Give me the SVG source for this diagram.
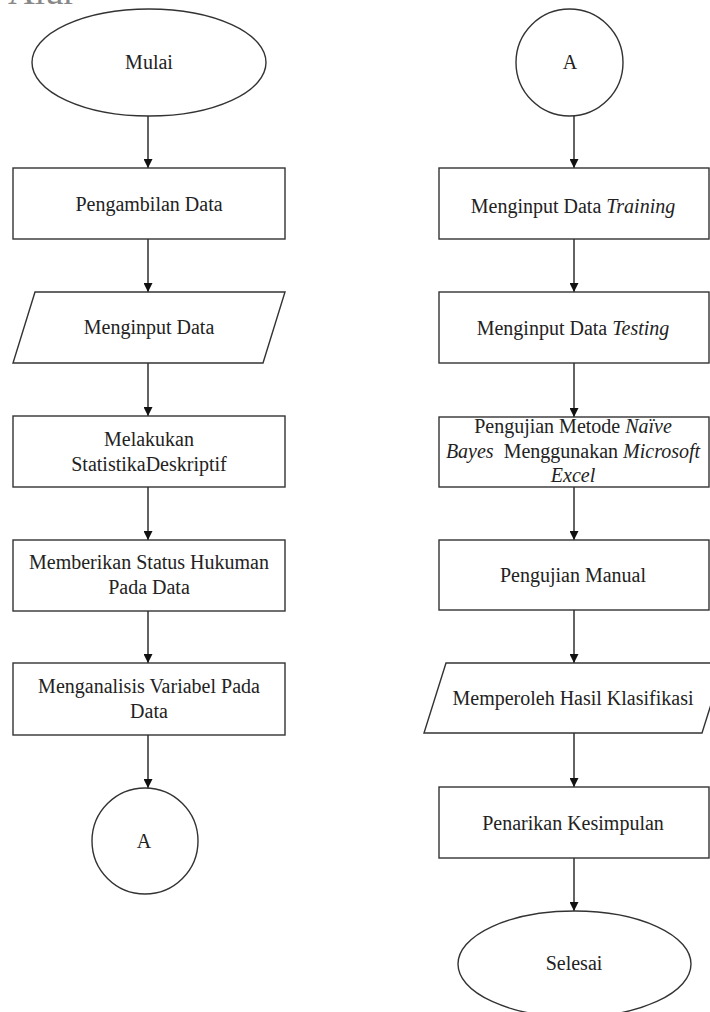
<svg xmlns="http://www.w3.org/2000/svg" width="710" height="1012" viewBox="0 0 710 1012">
<defs>
<marker id="arr" viewBox="0 0 10 10" refX="10" refY="5" markerWidth="9" markerHeight="9" markerUnits="userSpaceOnUse" orient="auto">
<path d="M0,0 L10,5 L0,10 z" fill="#111"/>
</marker>
<style>
.s{fill:#fff;stroke:#333;stroke-width:1.4}
.t{font-family:"Liberation Serif","Times New Roman",serif;font-size:20px;fill:#222;text-anchor:middle}
.i{font-style:italic}
.c{stroke:#222;stroke-width:1.4;fill:none;marker-end:url(#arr)}
</style>
</defs>
<rect width="710" height="1012" fill="#fff"/>
<text x="8" y="4" style="font-family:'Liberation Serif',serif;font-size:37px;fill:#888">Alur</text>
<g id="connectors">
<line class="c" x1="148" y1="116" x2="148" y2="168"/>
<line class="c" x1="148" y1="239" x2="148" y2="292"/>
<line class="c" x1="148" y1="363" x2="148" y2="416"/>
<line class="c" x1="148" y1="487" x2="148" y2="540"/>
<line class="c" x1="148" y1="611" x2="148" y2="663"/>
<line class="c" x1="148" y1="735" x2="148" y2="788"/>
<line class="c" x1="574" y1="116" x2="574" y2="168"/>
<line class="c" x1="574" y1="239" x2="574" y2="292"/>
<line class="c" x1="574" y1="363" x2="574" y2="417"/>
<line class="c" x1="574" y1="487" x2="574" y2="540"/>
<line class="c" x1="574" y1="610" x2="574" y2="663"/>
<line class="c" x1="574" y1="733" x2="574" y2="787"/>
<line class="c" x1="574" y1="858" x2="574" y2="911"/>
</g>
<g id="mulai"><ellipse class="s" cx="149" cy="62.5" rx="117" ry="53.5"/><text class="t" x="149" y="69">Mulai</text></g>
<g id="pengambilan"><rect class="s" x="13" y="168" width="272" height="71"/><text class="t" x="149" y="211">Pengambilan Data</text></g>
<g id="menginput"><polygon class="s" points="35,292 285,292 263,363 13,363"/><text class="t" x="149" y="334">Menginput Data</text></g>
<g id="melakukan"><rect class="s" x="13" y="416" width="272" height="71"/><text class="t" x="149" y="446">Melakukan</text><text class="t" x="149" y="471">StatistikaDeskriptif</text></g>
<g id="memberikan"><rect class="s" x="13" y="540" width="272" height="71"/><text class="t" x="149" y="569">Memberikan Status Hukuman</text><text class="t" x="149" y="594">Pada Data</text></g>
<g id="menganalisis"><rect class="s" x="13" y="663" width="272" height="72"/><text class="t" x="149" y="693">Menganalisis Variabel Pada</text><text class="t" x="149" y="718">Data</text></g>
<g id="a-left"><circle class="s" cx="145" cy="841" r="53"/><text class="t" x="144" y="848">A</text></g>
<g id="a-right"><circle class="s" cx="569.5" cy="62.5" r="53.5"/><text class="t" x="570" y="69">A</text></g>
<g id="training"><rect class="s" x="439" y="168" width="270" height="71"/><text class="t" x="573" y="213">Menginput Data <tspan class="i">Training</tspan></text></g>
<g id="testing"><rect class="s" x="439" y="292" width="270" height="71"/><text class="t" x="573" y="335">Menginput Data <tspan class="i">Testing</tspan></text></g>
<g id="pengujian-nb"><rect class="s" x="439" y="417" width="270" height="70"/><text class="t" x="573" y="433">Pengujian Metode <tspan class="i">Naïve</tspan></text><text class="t" x="573" y="458" xml:space="preserve"><tspan class="i">Bayes</tspan>  Menggunakan <tspan class="i">Microsoft</tspan></text><text class="t i" x="573" y="482">Excel</text></g>
<g id="manual"><rect class="s" x="439" y="540" width="270" height="70"/><text class="t" x="573" y="582">Pengujian Manual</text></g>
<g id="hasil"><polygon class="s" points="446,663 724,663 702,733 424,733"/><text class="t" x="573" y="705">Memperoleh Hasil Klasifikasi</text></g>
<g id="kesimpulan"><rect class="s" x="439" y="787" width="270" height="71"/><text class="t" x="573" y="830">Penarikan Kesimpulan</text></g>
<g id="selesai"><ellipse class="s" cx="574.5" cy="964" rx="116.5" ry="53"/><text class="t" x="574" y="970">Selesai</text></g>
</svg>
